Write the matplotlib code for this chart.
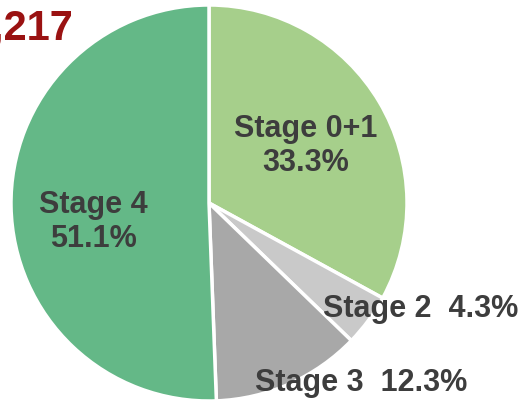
import matplotlib
matplotlib.use("Agg")
from matplotlib import pyplot as plt

plt.rcParams['font.family'] = ['Liberation Sans', 'DejaVu Sans']

# stage distribution (%)
stages = ["Stage 0+1", "Stage 2", "Stage 3", "Stage 4"]
shares = [33.3, 4.3, 12.3, 51.1]
colors = ["#a6cf8b", "#c9c9c9", "#a8a8a8", "#64b887"]
total_label = "n=1,217"

W, H = 526, 406
fig = plt.figure(figsize=(W / 100, H / 100), dpi=100)

# pie centre (209, 204) px from top-left, radius 198 px
cx, cy, r = 209, 204, 198
ax = fig.add_axes([(cx - r) / W, (H - cy - r) / H, 2 * r / W, 2 * r / H])
ax.pie(shares, colors=colors, startangle=90, counterclock=False,
       wedgeprops=dict(edgecolor="white", linewidth=2.5))
ax.set_xlim(-1, 1)
ax.set_ylim(-1, 1)


def px(x, y):
    return (x - cx) / r, (cy - y) / r


txt = dict(fontsize=22, fontweight="bold", color="#3d3d3d", linespacing=1.2)
ax.text(*px(306, 146), f"{stages[0]}\n{shares[0]}%", ha="center", va="center", **txt)
ax.text(*px(93, 222), f"{stages[3]}\n{shares[3]}%", ha="center", va="center", **txt)
ax.text(*px(323, 309), f"{stages[1]}  {shares[1]}%", ha="left", va="center",
        clip_on=False, **txt)
ax.text(*px(255, 383), f"{stages[2]}  {shares[2]}%", ha="left", va="center",
        clip_on=False, **txt)

fig.text(73 / W, 1 - 28 / H, total_label, ha="right", va="center",
         fontsize=30, fontweight="bold", color="#9a1212")

fig.savefig("out.png", dpi=100)
